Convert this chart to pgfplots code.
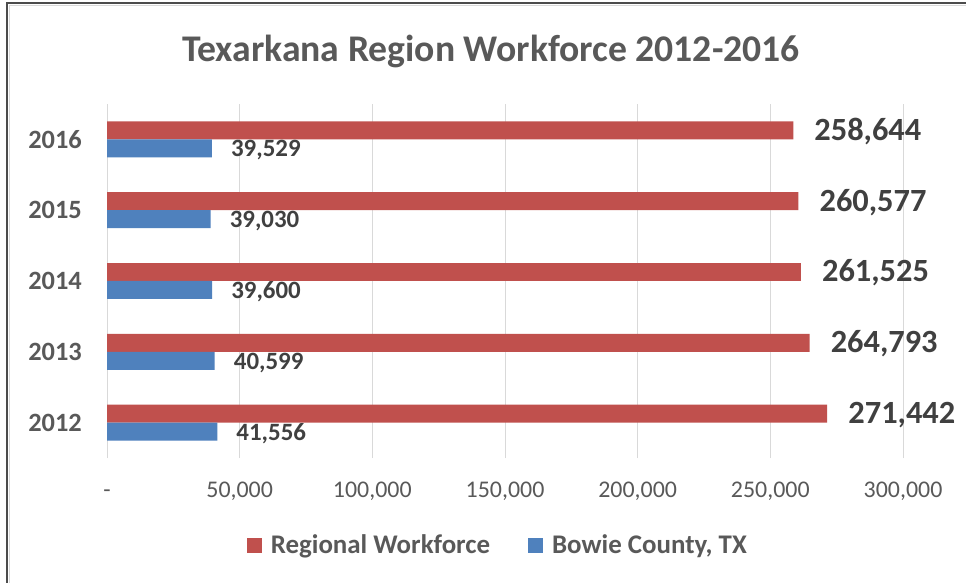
\documentclass[border=0pt]{standalone}
\usepackage{pgfplots}
\pgfplotsset{compat=1.18}
\usepackage{fontspec}
\setmainfont{Carlito}
\definecolor{rw}{HTML}{C0504D}
\definecolor{bc}{HTML}{4F81BD}
\definecolor{txt}{HTML}{595959}
\definecolor{lbl}{HTML}{404040}
\definecolor{grd}{HTML}{D9D9D9}
\begin{document}
\begin{tikzpicture}
\path[use as bounding box] (0,0) rectangle (966bp,583bp);
\fill[white] (0,0) rectangle (966bp,583bp);
% frame, only top and left edges are visible in the crop
\draw[black!70, line width=2bp] (7bp,0) -- (7bp,580bp) -- (966bp,580bp);
\draw[black!15, line width=1.5bp] (9.5bp,0) -- (9.5bp,577.5bp) -- (966bp,577.5bp);

\node[font=\fontsize{37.8}{37.8}\selectfont\bfseries, text=txt] at (491bp,532bp) {Texarkana Region Workforce 2012-2016};

\begin{axis}[
    at={(107bp,125bp)}, anchor=south west,
    width=796bp, height=354bp, scale only axis,
    xbar, bar width=0.254,
    xmin=0, xmax=300000,
    ymin=-0.5, ymax=4.5,
    clip=false,
    axis line style={draw=none},
    tick style={draw=none},
    major tick length=0pt,
    xtick={0,50000,100000,150000,200000,250000,300000},
    xticklabels={-,{50,000},{100,000},{150,000},{200,000},{250,000},{300,000}},
    scaled x ticks=false,
    ytick={0,1,2,3,4},
    yticklabels={2012,2013,2014,2015,2016},
    xmajorgrids, ymajorgrids=false,
    major grid style={grd, line width=1bp},
    xticklabel style={font=\fontsize{24}{24}\selectfont, text=txt, anchor=base, inner sep=0pt, yshift=-39bp},
    yticklabel style={font=\fontsize{26.5}{26.5}\selectfont\bfseries, text=txt, anchor=east, inner sep=0pt, xshift=-25bp},
    point meta=x,
    nodes near coords={\pgfmathprintnumber[fixed,precision=0,1000 sep={,},assume math mode=true]{\pgfplotspointmeta}},
    legend image code/.code={\fill[#1] (0bp,-7.5bp) rectangle (15bp,7.5bp); \path (22bp,0bp);},
    legend columns=2,
    legend style={at={(0.491,-0.246)}, anchor=center, draw=none, fill=none,
        font=\fontsize{27}{27}\selectfont\bfseries, text=txt,
        /tikz/every even column/.append style={column sep=36bp}},
    ]
    \addplot[fill=rw, draw=none, bar shift=0.127,
        every node near coord/.append style={font=\fontsize{32.5}{32.5}\selectfont\bfseries, text=lbl, inner sep=0pt, xshift=21bp, yshift=-1bp}]
        coordinates {(271442,0) (264793,1) (261525,2) (260577,3) (258644,4)};
    \addlegendentry{Regional Workforce}
    \addplot[fill=bc, draw=none, bar shift=-0.127,
        every node near coord/.append style={font=\fontsize{25}{25}\selectfont\bfseries, text=lbl, inner sep=0pt, xshift=19bp, yshift=-2bp}]
        coordinates {(41556,0) (40599,1) (39600,2) (39030,3) (39529,4)};
    \addlegendentry{Bowie County, TX}
\end{axis}
\end{tikzpicture}
\end{document}
